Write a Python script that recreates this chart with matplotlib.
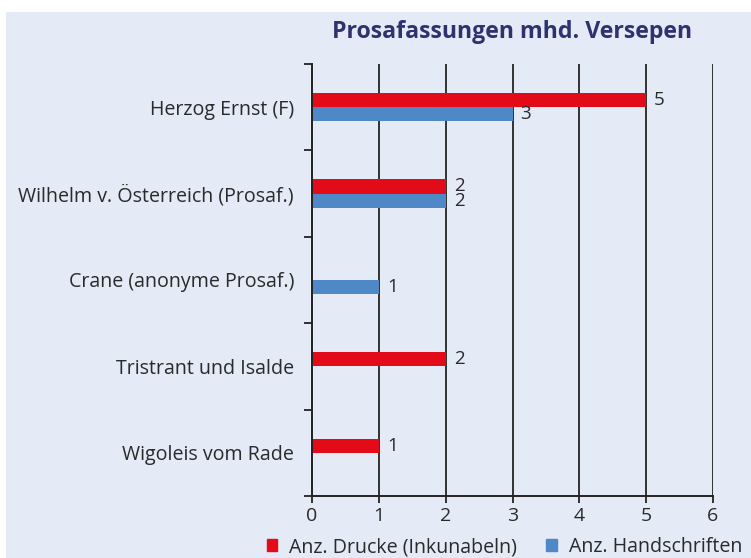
import matplotlib
matplotlib.use("Agg")
import matplotlib.pyplot as plt
from matplotlib.patches import Patch, Rectangle
import numpy as np

plt.rcParams['font.family'] = ['Open Sans', 'DejaVu Sans']

categories = ["Herzog Ernst (F)", "Wilhelm v. Österreich (Prosaf.)",
              "Crane (anonyme Prosaf.)", "Tristrant und Isalde", "Wigoleis vom Rade"]
drucke = [5, 2, 0, 2, 1]
handschriften = [3, 2, 1, 0, 0]
series_labels = ["Anz. Drucke (Inkunabeln)", "Anz. Handschriften"]

red = "#e30b17"
blue = "#4f88c6"
bg = "#e4eaf6"
txt = "#2a2a2a"

fig = plt.figure(figsize=(7.51, 5.58), dpi=100)
# light blue panel, leaving a thin white margin top and left
fig.patches.append(Rectangle((6 / 751, 0), 1, 1 - 12 / 558, transform=fig.transFigure,
                             facecolor=bg, edgecolor="none", zorder=-10))

ax = fig.add_axes([312 / 751, 62 / 558, 401 / 751, 432 / 558])
ax.set_facecolor("none")
ax.set_zorder(5)

y = np.arange(len(categories))
h = 0.165
for vals, off, col in [(drucke, -h / 2, red), (handschriften, h / 2, blue)]:
    for yi, v in zip(y, vals):
        if v == 0:
            continue
        ax.barh(yi + off, v, height=h, color=col, zorder=2)
        ax.text(v + 0.12, yi + off, str(v), va="center", ha="left",
                fontsize=13.5, color=txt, zorder=3)

ax.set_xlim(0, 6)
ax.set_ylim(len(categories) - 0.5, -0.5)

ax.set_yticks(y)
ax.set_yticklabels(categories, fontsize=14.1, color=txt)
ax.tick_params(axis="y", which="major", length=0, pad=13)
ax.set_yticks(np.arange(-0.5, len(categories)), minor=True)
ax.tick_params(axis="y", which="minor", length=6, width=1.3, color="#222")

ax.set_xticks(range(7))
ax.tick_params(axis="x", length=5, width=1.3, color="#222", labelsize=14,
               labelcolor=txt, pad=3)
for xv in range(1, 7):
    ax.axvline(xv, color="#333", lw=1.4, zorder=1)

for s in ["top", "right"]:
    ax.spines[s].set_visible(False)
for s in ["left", "bottom"]:
    ax.spines[s].set_linewidth(1.4)
    ax.spines[s].set_color("#222")

ax.set_title("Prosafassungen mhd. Versepen", fontsize=16.7, fontweight="bold",
             color="#2e3370", pad=19)

handles = [Patch(color=red), Patch(color=blue)]
fig.legend(handles, series_labels, loc="lower right", bbox_to_anchor=(1.012, -0.03),
           ncol=2, frameon=False, fontsize=14.1, handlelength=0.55, handleheight=0.55,
           handletextpad=0.6, columnspacing=1.5, labelcolor=txt)

fig.savefig("out.png", dpi=100, facecolor="white")
